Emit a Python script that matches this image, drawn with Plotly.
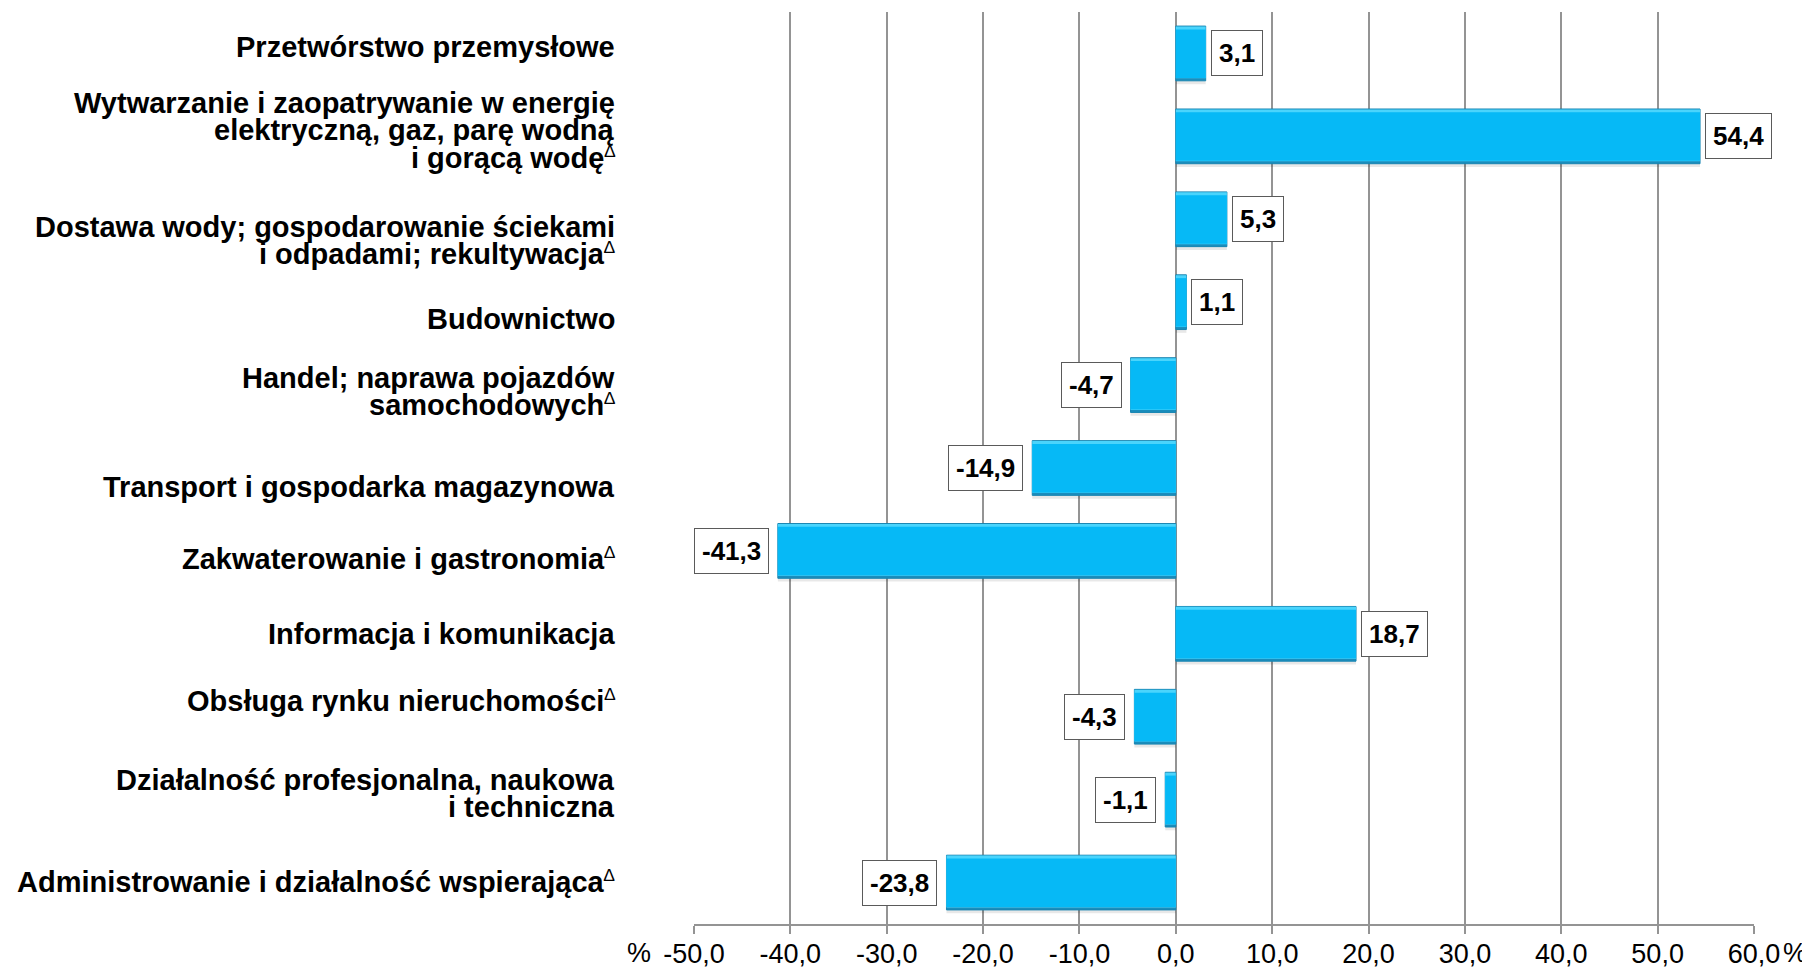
import plotly.graph_objects as go

categories = [
    "Przetwórstwo przemysłowe",
    "Wytwarzanie i zaopatrywanie w energię<br>elektryczną, gaz, parę wodną<br>i gorącą wodę<sup>∆</sup>",
    "Dostawa wody; gospodarowanie ściekami<br>i odpadami; rekultywacja<sup>∆</sup>",
    "Budownictwo",
    "Handel; naprawa pojazdów<br>samochodowych<sup>∆</sup>",
    "Transport i gospodarka magazynowa",
    "Zakwaterowanie i gastronomia<sup>∆</sup>",
    "Informacja i komunikacja",
    "Obsługa rynku nieruchomości<sup>∆</sup>",
    "Działalność profesjonalna, naukowa<br>i techniczna",
    "Administrowanie i działalność wspierająca<sup>∆</sup>",
]
values = [3.1, 54.4, 5.3, 1.1, -4.7, -14.9, -41.3, 18.7, -4.3, -1.1, -23.8]
tick_vals = [-50, -40, -30, -20, -10, 0, 10, 20, 30, 40, 50, 60]
tick_text = ["-50,0", "-40,0", "-30,0", "-20,0", "-10,0", "0,0", "10,0", "20,0", "30,0", "40,0", "50,0", "60,0"]

# styling: vertical nudges (px, + = down) of the category text block as in the original layout
label_nudge = [-6, -6, 21, 17, 6, 19, 8, 0, -16, -6, -1]
LINE_H = 27
FONT = "Liberation Sans, Arial, sans-serif"

cat_ids = list(range(len(categories)))
HW = 0.33  # half bar width (category units)

fig = go.Figure()
# soft shadow
fig.add_trace(go.Bar(x=values, y=cat_ids, orientation="h", width=2 * HW, offset=-HW + 0.04,
                     marker=dict(color="rgba(0,0,0,0.09)", line=dict(width=0)), hoverinfo="skip"))
# dark outer edge
fig.add_trace(go.Bar(x=values, y=cat_ids, orientation="h", width=2 * HW, offset=-HW,
                     marker=dict(color="#1A8DBC", line=dict(color="#1785B2", width=1)), hoverinfo="skip"))
# light upper bevel
fig.add_trace(go.Bar(x=values, y=cat_ids, orientation="h", width=2 * HW - 0.035, offset=-HW + 0.005,
                     marker=dict(color="#4AD4FC", line=dict(width=0)), hoverinfo="skip"))
# main face
fig.add_trace(go.Bar(x=values, y=cat_ids, orientation="h", width=2 * HW - 0.075, offset=-HW + 0.04,
                     marker=dict(color="#06B9F6", line=dict(width=0)), hoverinfo="skip"))

annotations = []
for i, v in enumerate(values):
    txt = f"{v:.1f}".replace(".", ",")
    annotations.append(dict(
        x=v, y=i, xref="x", yref="y", text="<b>" + txt + "</b>",
        showarrow=False, xanchor="left" if v >= 0 else "right",
        xshift=5 if v >= 0 else -9,
        font=dict(family=FONT, size=26, color="#000000"),
        bgcolor="#FFFFFF", bordercolor="#5a5a5a", borderwidth=1, borderpad=7,
    ))

for i, cat in enumerate(categories):
    lines = cat.split("<br>")
    n = len(lines)
    for k, line in enumerate(lines):
        if "<sup>" in line:
            main, _ = line.split("<sup>")
            t = "<b>" + main + "</b><span style='font-size:25px'><sup>∆</sup></span>"
        else:
            t = "<b>" + line + "</b>"
        off = (k - (n - 1) / 2) * LINE_H + label_nudge[i]
        annotations.append(dict(
            x=0, xref="paper", y=i, yref="y", xanchor="right", yanchor="middle",
            xshift=-77, yshift=-off, text=t, showarrow=False,
            font=dict(family=FONT, size=29, color="#000000"),
        ))

annotations.append(dict(x=-50, y=0, xref="x", yref="paper", yanchor="middle", xanchor="right",
                        xshift=-41, yshift=-29, text="%", showarrow=False,
                        font=dict(family=FONT, size=27, color="#000")))
annotations.append(dict(x=60, y=0, xref="x", yref="paper", yanchor="middle", xanchor="left",
                        xshift=27, yshift=-29, text="%", showarrow=False,
                        font=dict(family=FONT, size=27, color="#000")))

# the page adds an 8 px body margin, so the margins below are offset by 8 px
fig.update_layout(
    width=1810, height=967,
    margin=dict(l=686, r=64, t=4, b=51, autoexpand=False),
    paper_bgcolor="white", plot_bgcolor="white",
    showlegend=False, barmode="overlay",
    annotations=annotations,
    xaxis=dict(
        range=[-50, 60], tickvals=tick_vals, ticktext=tick_text, automargin=False,
        showgrid=True, gridcolor="#949494", gridwidth=1.5,
        zeroline=False, showline=True, linecolor="#949494", linewidth=2,
        ticks="outside", ticklen=8, tickcolor="#949494", tickwidth=1.5,
        ticklabelstandoff=-3,
        tickfont=dict(family=FONT, size=27, color="#000"),
    ),
    yaxis=dict(
        tickvals=cat_ids, range=[len(categories) - 0.5, -0.5], automargin=False,
        showgrid=False, zeroline=False, showline=False, ticks="", showticklabels=False,
    ),
)
fig.write_html("out.html")
